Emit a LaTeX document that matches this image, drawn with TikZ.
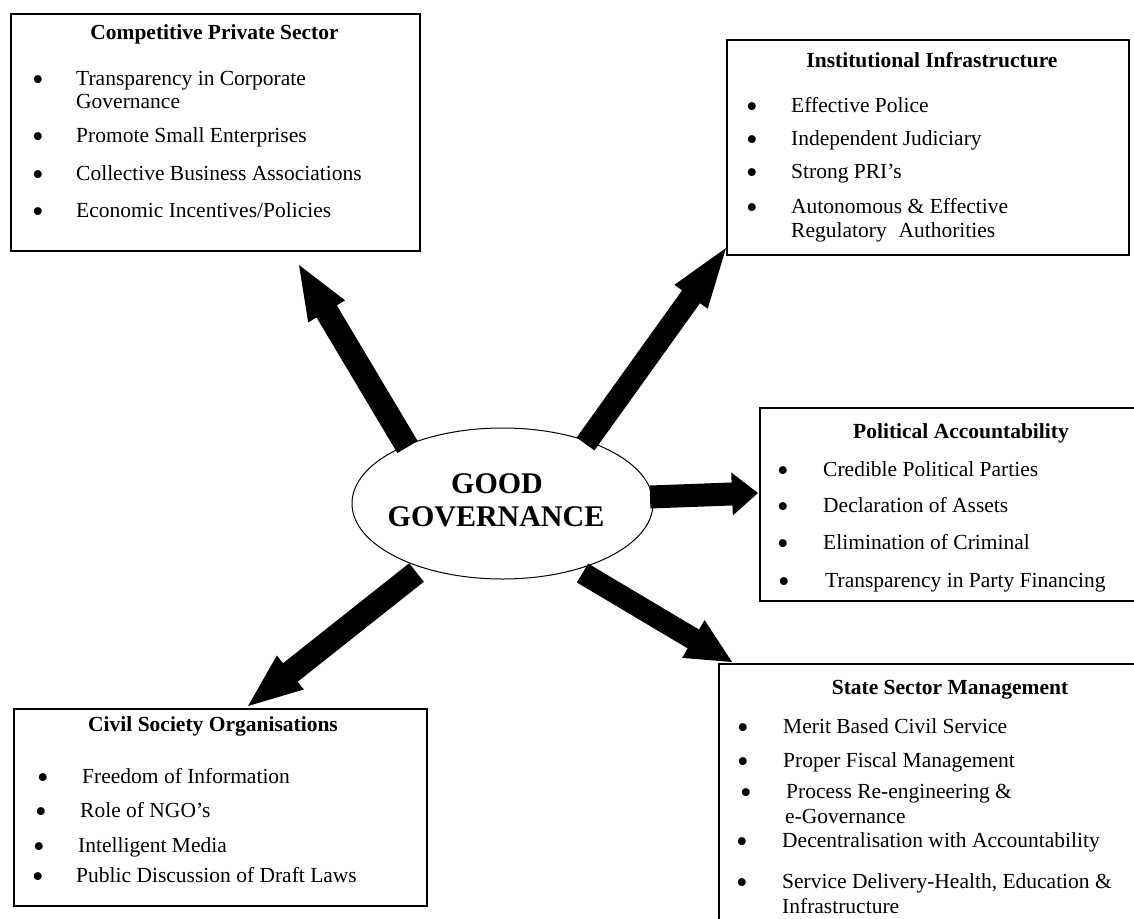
\documentclass[tikz,border=0pt]{standalone}
\usepackage{fontspec}
\setmainfont{Liberation Serif}
\usetikzlibrary{calc,shapes.geometric}
\tikzset{
  box/.style={draw, line width=1.5pt, fill=white, anchor=north west, inner sep=0pt},
  ttl/.style={font=\fontsize{21.5}{24}\selectfont\bfseries, anchor=base, inner sep=0pt},
  itm/.style={font=\fontsize{21.5}{24}\selectfont, anchor=base west, inner sep=0pt},
  bul/.style={font=\fontsize{33}{36}\selectfont, anchor=base, inner sep=0pt, yshift=-5pt},
  big/.style={font=\fontsize{30}{32}\selectfont\bfseries, anchor=base, inner sep=0pt},
  ell/.style={draw, ellipse, line width=1pt, fill=white, inner sep=0pt},
  arrowfill/.style={fill=black}
}
% #1 tail, #2 tip, #3 half shaft width, #4 half head width, #5 head length
\newcommand\gblockarrow[5]{%
  \path ($(#2)!#5!(#1)$) coordinate (hb);
  \fill[arrowfill] ($(#1)!#3!90:(#2)$) -- ($(hb)!#3!-90:(#1)$) -- ($(hb)!#4!-90:(#1)$)
    -- (#2) -- ($(hb)!#4!90:(#1)$) -- ($(hb)!#3!90:(#1)$) -- ($(#1)!#3!-90:(#2)$) -- cycle;}
% #1 name, #2 bullet x, #3 text x, #4 baseline y, #5 text
\newcommand\bitem[5]{\node[bul] (#1b) at (#2,#4) {\textbullet};\node[itm] (#1) at (#3,#4) {#5};}
\begin{document}
\begin{tikzpicture}[x=1pt,y=-1pt]
\useasboundingbox (0,0) rectangle (1134,918);
\fill[white] (0,0) rectangle (1134,918);

% boxes
\node[box, minimum width=409pt, minimum height=237pt] (b1) at (10,13) {};
\node[box, minimum width=402pt, minimum height=215pt] (b2) at (726,39) {};
\node[box, minimum width=385pt, minimum height=193pt] (b3) at (759,407) {};
\node[box, minimum width=425pt, minimum height=270pt] (b4) at (718,663) {};
\node[box, minimum width=413pt, minimum height=197pt] (b5) at (13,708) {};

% box 1
\node[ttl] (b1t) at (214.5,39) {Competitive Private Sector};
\bitem{a1}{38}{76}{85}{Transparency in Corporate}
\node[itm] (a1c) at (76,108) {Governance};
\bitem{a2}{38}{76}{142}{Promote Small Enterprises}
\bitem{a3}{38}{76}{180}{Collective Business Associations}
\bitem{a4}{38}{76}{217}{Economic Incentives/Policies}

% box 2
\node[ttl] (b2t) at (932,67) {Institutional Infrastructure};
\bitem{c1}{752}{791}{112}{Effective Police}
\bitem{c2}{752}{791}{145}{Independent Judiciary}
\bitem{c3}{752}{791}{178}{Strong PRI’s}
\bitem{c4}{752}{791}{213}{Autonomous \& Effective}
\node[itm] (c4c) at (791,237) {Regulatory\hspace{0.55em}Authorities};

% box 3
\node[ttl] (b3t) at (961,438) {Political Accountability};
\bitem{d1}{783}{823}{476}{Credible Political Parties}
\bitem{d2}{783}{823}{512}{Declaration of Assets}
\bitem{d3}{783}{823}{549}{Elimination of Criminal}
\bitem{d4}{784}{825}{587}{Transparency in Party Financing}

% box 4
\node[ttl] (b4t) at (950,694) {State Sector Management};
\bitem{e1}{743}{783}{733}{Merit Based Civil Service}
\bitem{e2}{743}{783}{767}{Proper Fiscal Management}
\bitem{e3}{746}{786}{798}{Process Re-engineering \&}
\node[itm] (e3c) at (785,823) {e-Governance};
\bitem{e4}{742}{782}{847}{Decentralisation with Accountability}
\bitem{e5}{742}{782}{888}{Service Delivery-Health, Education \&}
\node[itm] (e5c) at (782,913) {Infrastructure};

% box 5
\node[ttl] (b5t) at (213,731) {Civil Society Organisations};
\bitem{f1}{43}{82}{783}{Freedom of Information}
\bitem{f2}{41}{80}{817}{Role of NGO’s}
\bitem{f3}{39}{78}{852}{Intelligent Media}
\bitem{f4}{38}{76}{882}{Public Discussion of Draft Laws}

% centre
\node[ell, minimum width=301pt, minimum height=151pt] (gg) at (502.5,503.5) {};
\node[big] (gg1) at (497,493) {GOOD};
\node[big] (gg2) at (496,526) {GOVERNANCE};

% arrow ends
\coordinate (t1) at (407.5,447);  \coordinate (p1) at (299,265);
\coordinate (t2) at (585.5,444);  \coordinate (p2) at (726,248);
\coordinate (t3) at (650,497);    \coordinate (p3) at (758,493);
\coordinate (t4) at (416.5,572.5);\coordinate (p4) at (248,706);
\coordinate (t5) at (582.5,573);  \coordinate (p5) at (732,662);

\gblockarrow{t1}{p1}{11.8pt}{21.5pt}{54pt}
\gblockarrow{t2}{p2}{11pt}{20.5pt}{60pt}
\gblockarrow{t3}{p3}{11.5pt}{21.5pt}{26pt}
\gblockarrow{t4}{p4}{11.8pt}{21.7pt}{54pt}
\gblockarrow{t5}{p5}{11pt}{22pt}{45pt}
\end{tikzpicture}
\end{document}
